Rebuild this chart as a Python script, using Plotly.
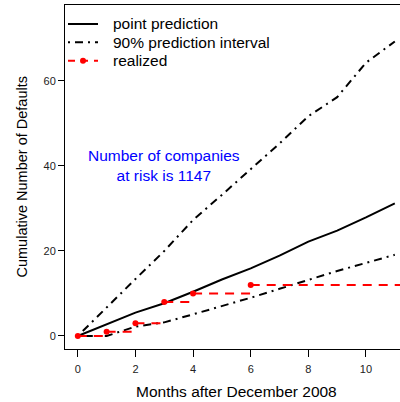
import plotly.graph_objects as go

months = [0, 1, 2, 3, 4, 5, 6, 7, 8, 9, 10, 11]
point_pred = [0, 2.8, 5.5, 7.7, 10.4, 13.3, 15.9, 18.9, 22.2, 24.8, 27.9, 31.2]
upper_pi = [0, 6.8, 13.4, 20.0, 27.3, 33.2, 39.2, 45.3, 51.7, 56.2, 64.3, 69.3]
lower_pi = [0, 0, 2.2, 3.2, 5.1, 7.0, 9.0, 11.1, 13.2, 15.3, 17.2, 19.1]
realized_months = [0, 1, 2, 3, 4, 6]
realized_values = [0, 1, 3, 8, 10, 12]
realized_end = 11.5
x_ticks = [0, 2, 4, 6, 8, 10]
y_ticks = [0, 20, 40, 60]
legend_labels = ["point prediction", "90% prediction interval", "realized"]
note_text = "Number of companies<br>at risk is 1147"
note_pos = (3, 40)

FONT = "Liberation Sans, Arial, sans-serif"
BIG = 15.5
DASHDOT = "2px,5px,8px,5px"
DASH = "9px,7px"

# plot-area geometry in pixels (for the hand-built legend)
L, T, W, H = 65, 5, 335, 344
def px(xp):
    return (xp - L) / W
def py(yp):
    return (T + H - yp) / H

seg_x, seg_y = [], []
nxt = realized_months[1:] + [realized_end]
for m, v, m2 in zip(realized_months, realized_values, nxt):
    seg_x += [m, m2, None]
    seg_y += [v, v, None]

fig = go.Figure()
fig.add_trace(go.Scatter(x=months, y=point_pred, mode="lines", name=legend_labels[0],
                         line=dict(color="black", width=2), showlegend=False))
fig.add_trace(go.Scatter(x=months, y=upper_pi, mode="lines", name=legend_labels[1],
                         line=dict(color="black", width=2, dash=DASHDOT), showlegend=False))
fig.add_trace(go.Scatter(x=months, y=lower_pi, mode="lines", showlegend=False,
                         line=dict(color="black", width=2, dash=DASHDOT)))
fig.add_trace(go.Scatter(x=seg_x, y=seg_y, mode="lines", showlegend=False,
                         line=dict(color="red", width=2, dash=DASH)))
fig.add_trace(go.Scatter(x=realized_months, y=realized_values, mode="markers", name=legend_labels[2],
                         showlegend=False, marker=dict(color="red", size=6)))

# hand-built legend (no box)
rows = [24, 42.3, 60.7]
styles = [dict(color="black", width=2), dict(color="black", width=2, dash=DASHDOT),
          dict(color="red", width=2, dash="7px,6px")]
for ry, st, lab in zip(rows, styles, legend_labels):
    fig.add_shape(type="line", xref="paper", yref="paper", x0=px(68), x1=px(98), y0=py(ry), y1=py(ry),
                  line=st)
    fig.add_annotation(xref="paper", yref="paper", x=px(111), y=py(ry), text=lab, showarrow=False,
                       xanchor="left", yanchor="middle", font=dict(family=FONT, size=BIG, color="black"))
fig.add_shape(type="circle", xref="paper", yref="paper", x0=px(83 - 3), x1=px(83 + 3),
              y0=py(rows[2] + 3), y1=py(rows[2] - 3), fillcolor="red", line=dict(color="red", width=0))

fig.add_annotation(x=note_pos[0], y=note_pos[1], text=note_text, showarrow=False,
                   font=dict(family=FONT, size=BIG, color="#0000FF"), align="center")
fig.add_annotation(xref="paper", yref="paper", x=0.513, y=0, yshift=-42, text="Months after December 2008",
                   showarrow=False, font=dict(family=FONT, size=BIG, color="black"), yanchor="middle")
fig.add_annotation(xref="paper", yref="paper", x=0, xshift=-44, y=py(177.5), text="Cumulative Number of Defaults",
                   textangle=-90, showarrow=False, font=dict(family=FONT, size=14.5, color="black"),
                   xanchor="center", yanchor="middle")

fig.update_layout(
    width=400, height=402,
    margin=dict(l=L, r=0, t=T, b=402 - T - H),
    plot_bgcolor="white", paper_bgcolor="white",
    font=dict(family=FONT, size=11, color="#222"),
    showlegend=False,
    xaxis=dict(range=[-0.444, 11.18], tickvals=x_ticks, showgrid=False, zeroline=False,
               showline=True, linecolor="black", linewidth=1, mirror=True,
               ticks="outside", ticklen=7, tickcolor="black", ticklabelstandoff=3),
    yaxis=dict(range=[-3.06, 77.88], tickvals=y_ticks, showgrid=False, zeroline=False,
               showline=True, linecolor="black", linewidth=1,
               ticks="outside", ticklen=6, tickcolor="black"),
)
fig.write_html("out.html", config={"displayModeBar": False},
               post_script="document.body.style.margin='0';document.body.style.overflow='hidden';")
